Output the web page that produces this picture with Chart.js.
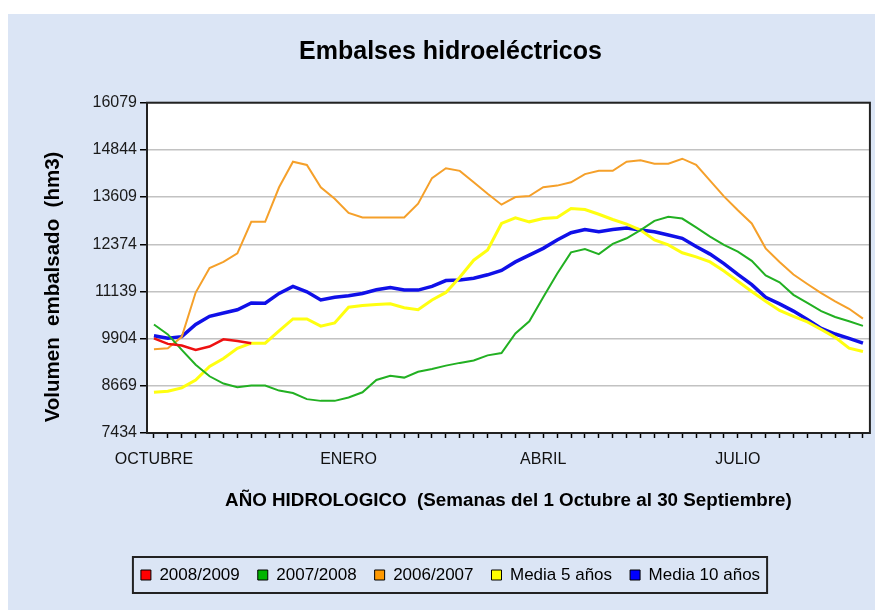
<!DOCTYPE html>
<html lang="es">
<head>
<meta charset="utf-8">
<title>Embalses hidroeléctricos</title>
<script src="https://cdn.jsdelivr.net/npm/chart.js@4.4.1/dist/chart.umd.min.js"></script>
<style>
    html, body { margin: 0; padding: 0; background: #ffffff; }
    #wrap { width: 875px; height: 610px; }
</style>
</head>
<body>
<div id="wrap"><canvas id="embalsesChart" width="875" height="610"></canvas></div>
<script>
// semanas del año hidrológico (1 octubre - 30 septiembre)
const weeks = Array.from({ length: 52 }, (_, i) => i + 1);
const monthLabels = ['OCTUBRE', 'ENERO', 'ABRIL', 'JULIO'];
const monthWeeks = [0, 14, 28, 42];
const yTicks = [7434, 8669, 9904, 11139, 12374, 13609, 14844, 16079];

// volumen embalsado (hm3)
const serie2008 = [9912, 9766, 9724, 9610, 9697, 9887, 9844, 9784];
const serie2007 = [10273, 10015, 9610, 9221, 8919, 8729, 8633, 8678, 8678, 8544, 8481, 8320, 8275, 8275, 8365, 8499, 8821, 8930,
    8884, 9036, 9108, 9197, 9269, 9331, 9466, 9528, 10041, 10359, 10985, 11601, 12161, 12250, 12116, 12383,
    12530, 12745, 12987, 13091, 13047, 12814, 12573, 12357, 12180, 11939, 11557, 11379, 11050, 10839, 10625, 10470, 10359, 10239];
const serie2006 = [9628, 9650, 9950, 11110, 11752, 11912, 12134, 12961, 12961, 13866, 14535, 14450, 13866, 13566, 13194, 13075, 13075, 13075,
    13075, 13436, 14106, 14364, 14295, 13995, 13695, 13410, 13609, 13635, 13866, 13909, 13995, 14210, 14295, 14295,
    14535, 14570, 14484, 14484, 14613, 14450, 14038, 13626, 13263, 12918, 12267, 11912, 11583, 11334, 11096, 10882, 10685, 10428];
const media5 = [8499, 8526, 8615, 8821, 9176, 9384, 9652, 9784, 9784, 10110, 10419, 10419, 10230, 10316, 10728, 10771, 10797, 10814,
    10711, 10660, 10917, 11113, 11512, 11957, 12223, 12918, 13065, 12961, 13047, 13075, 13307, 13281, 13160, 13022,
    12900, 12745, 12486, 12357, 12152, 12045, 11912, 11672, 11405, 11139, 10882, 10642, 10488, 10342, 10144, 9938, 9654, 9567];
const media10 = [9981, 9912, 9955, 10273, 10488, 10574, 10660, 10839, 10831, 11087, 11272, 11130, 10917, 10985, 11027, 11087, 11184, 11240,
    11175, 11175, 11272, 11423, 11441, 11485, 11574, 11690, 11912, 12090, 12267, 12486, 12676, 12762, 12702, 12762,
    12800, 12745, 12702, 12616, 12529, 12313, 12116, 11868, 11583, 11316, 10985, 10814, 10625, 10402, 10170, 10024, 9912, 9784];

const seriesNames = ['2008/2009', '2007/2008', '2006/2007', 'Media 5 años', 'Media 10 años'];
const seriesData = [serie2008, serie2007, serie2006, media5, media10];
const lineColors = ['#ee1111', '#22b022', '#f5a02a', '#ffff10', '#1010e8'];
const swatchColors = ['#ff0000', '#00b400', '#ff9900', '#ffff00', '#0000ff'];
const lineWidths = [2.5, 2, 2, 3, 3.5];

const panelColor = '#dbe5f5';
const FONT = "'Liberation Sans', Arial, Helvetica, sans-serif";
Chart.defaults.font.family = FONT;
Chart.defaults.color = '#111111';

// fondo azul, marco del área de trazado, título vertical y caja de leyenda
const chartDecor = {
    id: 'chartDecor',
    beforeDraw(chart) {
        const ctx = chart.ctx;
        ctx.save();
        ctx.fillStyle = '#ffffff';
        ctx.fillRect(0, 0, chart.width, chart.height);
        ctx.fillStyle = panelColor;
        ctx.fillRect(8, 14, chart.width - 8, chart.height - 14);
        const a = chart.chartArea;
        ctx.fillStyle = '#ffffff';
        ctx.fillRect(a.left, a.top, a.right - a.left, a.bottom - a.top);
        ctx.restore();
    },
    afterDatasetsDraw(chart) {
        const ctx = chart.ctx;
        const a = chart.chartArea;
        ctx.save();
        ctx.strokeStyle = '#222222';
        ctx.lineWidth = 2;
        ctx.strokeRect(a.left, a.top, a.right - a.left, a.bottom - a.top);
        ctx.restore();
    },
    afterDraw(chart) {
        const ctx = chart.ctx;
        ctx.save();
        ctx.translate(53, 287);
        ctx.rotate(-Math.PI / 2);
        ctx.font = 'bold 20.5px ' + FONT;
        ctx.fillStyle = '#000000';
        ctx.textAlign = 'center';
        ctx.textBaseline = 'middle';
        ctx.fillText('Volumen  embalsado  (hm3)', 0, 0);
        ctx.restore();

        const boxes = chart.legend.legendHitBoxes;
        if (boxes && boxes.length) {
            const left = Math.min(...boxes.map(b => b.left));
            const right = Math.max(...boxes.map(b => b.left + b.width));
            const top = boxes[0].top;
            ctx.save();
            ctx.strokeStyle = '#222222';
            ctx.lineWidth = 2;
            ctx.strokeRect(left - 8, top - 9.5, right - left + 15, 36);
            ctx.restore();
        }
    }
};

const ctx = document.getElementById('embalsesChart').getContext('2d');
new Chart(ctx, {
    type: 'line',
    data: {
        labels: weeks,
        datasets: seriesNames.map((name, k) => ({
            label: name,
            data: seriesData[k],
            borderColor: lineColors[k],
            backgroundColor: swatchColors[k],
            borderWidth: lineWidths[k],
            pointRadius: 0,
            tension: 0,
            fill: false
        }))
    },
    options: {
        responsive: false,
        animation: false,
        devicePixelRatio: 1,
        layout: { padding: { left: 30, top: 14, right: 4, bottom: 16.5 } },
        plugins: {
            title: {
                display: true,
                text: 'Embalses hidroeléctricos',
                color: '#000000',
                font: { size: 25, weight: 'bold' },
                padding: { top: 23, bottom: 35.7 }
            },
            legend: {
                position: 'bottom',
                labels: {
                    boxWidth: 10,
                    boxHeight: 10,
                    padding: 18,
                    color: '#111111',
                    font: { size: 17 },
                    generateLabels(chart) {
                        return chart.data.datasets.map((ds, i) => ({
                            text: ds.label,
                            fillStyle: swatchColors[i],
                            strokeStyle: '#000000',
                            lineWidth: 1,
                            hidden: false,
                            datasetIndex: i
                        }));
                    }
                }
            },
            tooltip: { enabled: false }
        },
        scales: {
            x: {
                offset: true,
                afterFit(scale) { scale.height = 115.5; },
                grid: {
                    drawOnChartArea: false,
                    offset: false,
                    tickLength: 5,
                    tickColor: '#000000',
                    tickWidth: 1.5
                },
                border: { color: '#000000', width: 2 },
                ticks: {
                    autoSkip: false,
                    maxRotation: 0,
                    padding: 12,
                    color: '#111111',
                    font: { size: 16 },
                    callback(value, index) {
                        const k = monthWeeks.indexOf(index);
                        return k >= 0 ? monthLabels[k] : '';
                    }
                },
                title: {
                    display: true,
                    text: 'AÑO HIDROLOGICO  (Semanas del 1 Octubre al 30 Septiembre)',
                    color: '#000000',
                    font: { size: 18.8, weight: 'bold' },
                    padding: { top: 0, bottom: 36.7 }
                }
            },
            y: {
                min: yTicks[0],
                max: yTicks[yTicks.length - 1],
                afterFit(scale) { scale.width = 117; },
                afterBuildTicks(scale) { scale.ticks = yTicks.map(v => ({ value: v })); },
                grid: {
                    color: '#c2c2c2',
                    lineWidth: 1.5,
                    tickLength: 7,
                    tickColor: '#000000',
                    tickWidth: 1.5
                },
                border: { color: '#000000', width: 2 },
                ticks: {
                    padding: 3,
                    color: '#1a1a1a',
                    font: { size: 16 },
                    callback: value => String(value)
                }
            }
        }
    },
    plugins: [chartDecor]
});
</script>
</body>
</html>
